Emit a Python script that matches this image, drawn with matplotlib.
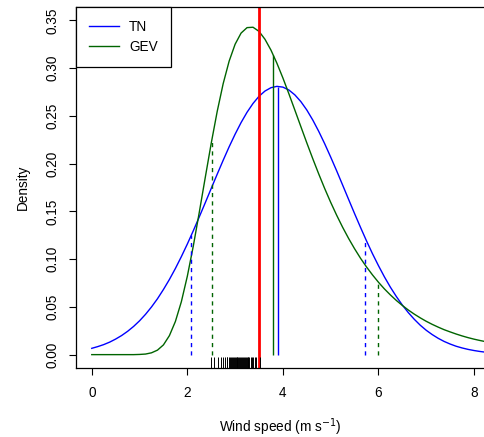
import matplotlib
matplotlib.use("Agg")
import matplotlib.pyplot as plt

plt.rcParams['font.family'] = ['Liberation Sans', 'DejaVu Sans']
plt.rcParams['font.size'] = 9.8

# --- Data ---
wind = [0.0, 0.125, 0.25, 0.375, 0.5, 0.625, 0.75, 0.875,
        1.0, 1.125, 1.25, 1.375, 1.5, 1.625, 1.75, 1.875,
        2.0, 2.125, 2.25, 2.375, 2.5, 2.625, 2.75, 2.875,
        3.0, 3.125, 3.25, 3.375, 3.5, 3.625, 3.75, 3.875,
        4.0, 4.125, 4.25, 4.375, 4.5, 4.625, 4.75, 4.875,
        5.0, 5.125, 5.25, 5.375, 5.5, 5.625, 5.75, 5.875,
        6.0, 6.125, 6.25, 6.375, 6.5, 6.625, 6.75, 6.875,
        7.0, 7.125, 7.25, 7.375, 7.5, 7.625, 7.75, 7.875,
        8.0, 8.125, 8.25]
tn_density = [0.0066, 0.0084, 0.0105, 0.0131, 0.0163, 0.0200, 0.0244, 0.0295,
              0.0354, 0.0422, 0.0499, 0.0585, 0.0682, 0.0787, 0.0902, 0.1026,
              0.1158, 0.1297, 0.1442, 0.1590, 0.1740, 0.1889, 0.2035, 0.2176,
              0.2308, 0.2430, 0.2538, 0.2630, 0.2705, 0.2760, 0.2795, 0.2809,
              0.2801, 0.2771, 0.2720, 0.2650, 0.2562, 0.2457, 0.2338, 0.2208,
              0.2069, 0.1925, 0.1776, 0.1626, 0.1477, 0.1332, 0.1191, 0.1057,
              0.0932, 0.0814, 0.0706, 0.0608, 0.0519, 0.0440, 0.0370, 0.0308,
              0.0255, 0.0210, 0.0171, 0.0138, 0.0111, 0.0088, 0.0070, 0.0055,
              0.0043, 0.0033, 0.0025]
gev_density = [0.0, 0.0, 0.0, 0.0, 0.0, 0.0, 0.0, 0.0,
               0.0002, 0.0006, 0.0019, 0.0047, 0.0102, 0.0199, 0.0347, 0.0554,
               0.0821, 0.1137, 0.1490, 0.1854, 0.2213, 0.2546, 0.2837, 0.3073,
               0.3250, 0.3367, 0.3424, 0.3428, 0.3385, 0.3302, 0.3189, 0.3051,
               0.2897, 0.2732, 0.2561, 0.2389, 0.2218, 0.2052, 0.1892, 0.1739,
               0.1595, 0.1460, 0.1334, 0.1217, 0.1109, 0.1009, 0.0918, 0.0835,
               0.0758, 0.0688, 0.0625, 0.0567, 0.0515, 0.0467, 0.0424, 0.0385,
               0.0349, 0.0317, 0.0288, 0.0261, 0.0238, 0.0216, 0.0196, 0.0178,
               0.0162, 0.0148, 0.0135]

# centre (solid) and 10%/90% (dashed) markers: position, height
tn_centre = (3.89, 0.2805)
gev_centre = (3.79, 0.314)
tn_bounds = [(2.08, 0.125), (5.72, 0.120)]
gev_bounds = [(2.52, 0.224), (6.0, 0.074)]
observed = 3.5

rug = [2.49, 2.56, 2.65, 2.70, 2.75, 2.79, 2.82, 2.84, 2.87, 2.89, 2.92, 2.94,
       2.96, 2.98, 3.00, 3.02, 3.04, 3.05, 3.07, 3.09, 3.11, 3.12, 3.14, 3.16,
       3.18, 3.20, 3.22, 3.24, 3.26, 3.28, 3.30, 3.33, 3.36, 3.38, 3.41, 3.44,
       3.52]

TN_COL = "#0000ff"
GEV_COL = "#006400"

# --- Plot ---
fig = plt.figure(figsize=(4.85, 4.37), dpi=100)
ax = fig.add_axes([76 / 485, 69 / 437, 1 - 76 / 485, 361 / 437])

ax.plot(wind, tn_density, color=TN_COL, lw=1, label="TN")
ax.plot(wind, gev_density, color=GEV_COL, lw=1, label="GEV")

ax.vlines([tn_centre[0]], 0, tn_centre[1], color=TN_COL, lw=1)
ax.vlines([gev_centre[0]], 0, gev_centre[1], color=GEV_COL, lw=1)
for x, h in tn_bounds:
    ax.vlines(x, 0, h, color=TN_COL, lw=1, linestyles=(0, (3, 3)))
for x, h in gev_bounds:
    ax.vlines(x, 0, h, color=GEV_COL, lw=1, linestyles=(0, (3, 3)))

ax.axvline(observed, color="red", lw=2)

# rug along the bottom
ax.vlines(rug, 0, 0.03, color="black", lw=0.7, transform=ax.get_xaxis_transform())

ax.set_xlim(-0.33, 8.23)
ax.set_ylim(-0.014, 0.364)
ax.set_xticks([0, 2, 4, 6, 8])
ax.set_yticks([0.0, 0.05, 0.10, 0.15, 0.20, 0.25, 0.30, 0.35])
ax.set_yticklabels([f"{v:.2f}" for v in ax.get_yticks()], rotation=90, va="center")
ax.tick_params(length=5, width=0.8, pad=8, direction="out")
ax.tick_params(axis="y", pad=7)
ax.spines["right"].set_visible(False)
for s in ["left", "bottom", "top"]:
    ax.spines[s].set_linewidth(0.9)

ax.set_xlabel("Wind speed (m s$^{-1}$)", labelpad=12)
ax.set_ylabel("Density", labelpad=11)

leg = ax.legend(loc="upper left", bbox_to_anchor=(0, 1), borderaxespad=0,
                fancybox=False, edgecolor="black", framealpha=1,
                handlelength=2.2, handletextpad=0.75, borderpad=0.95,
                labelspacing=0.45)
leg.get_frame().set_linewidth(0.9)

fig.savefig("out.png", dpi=100)
